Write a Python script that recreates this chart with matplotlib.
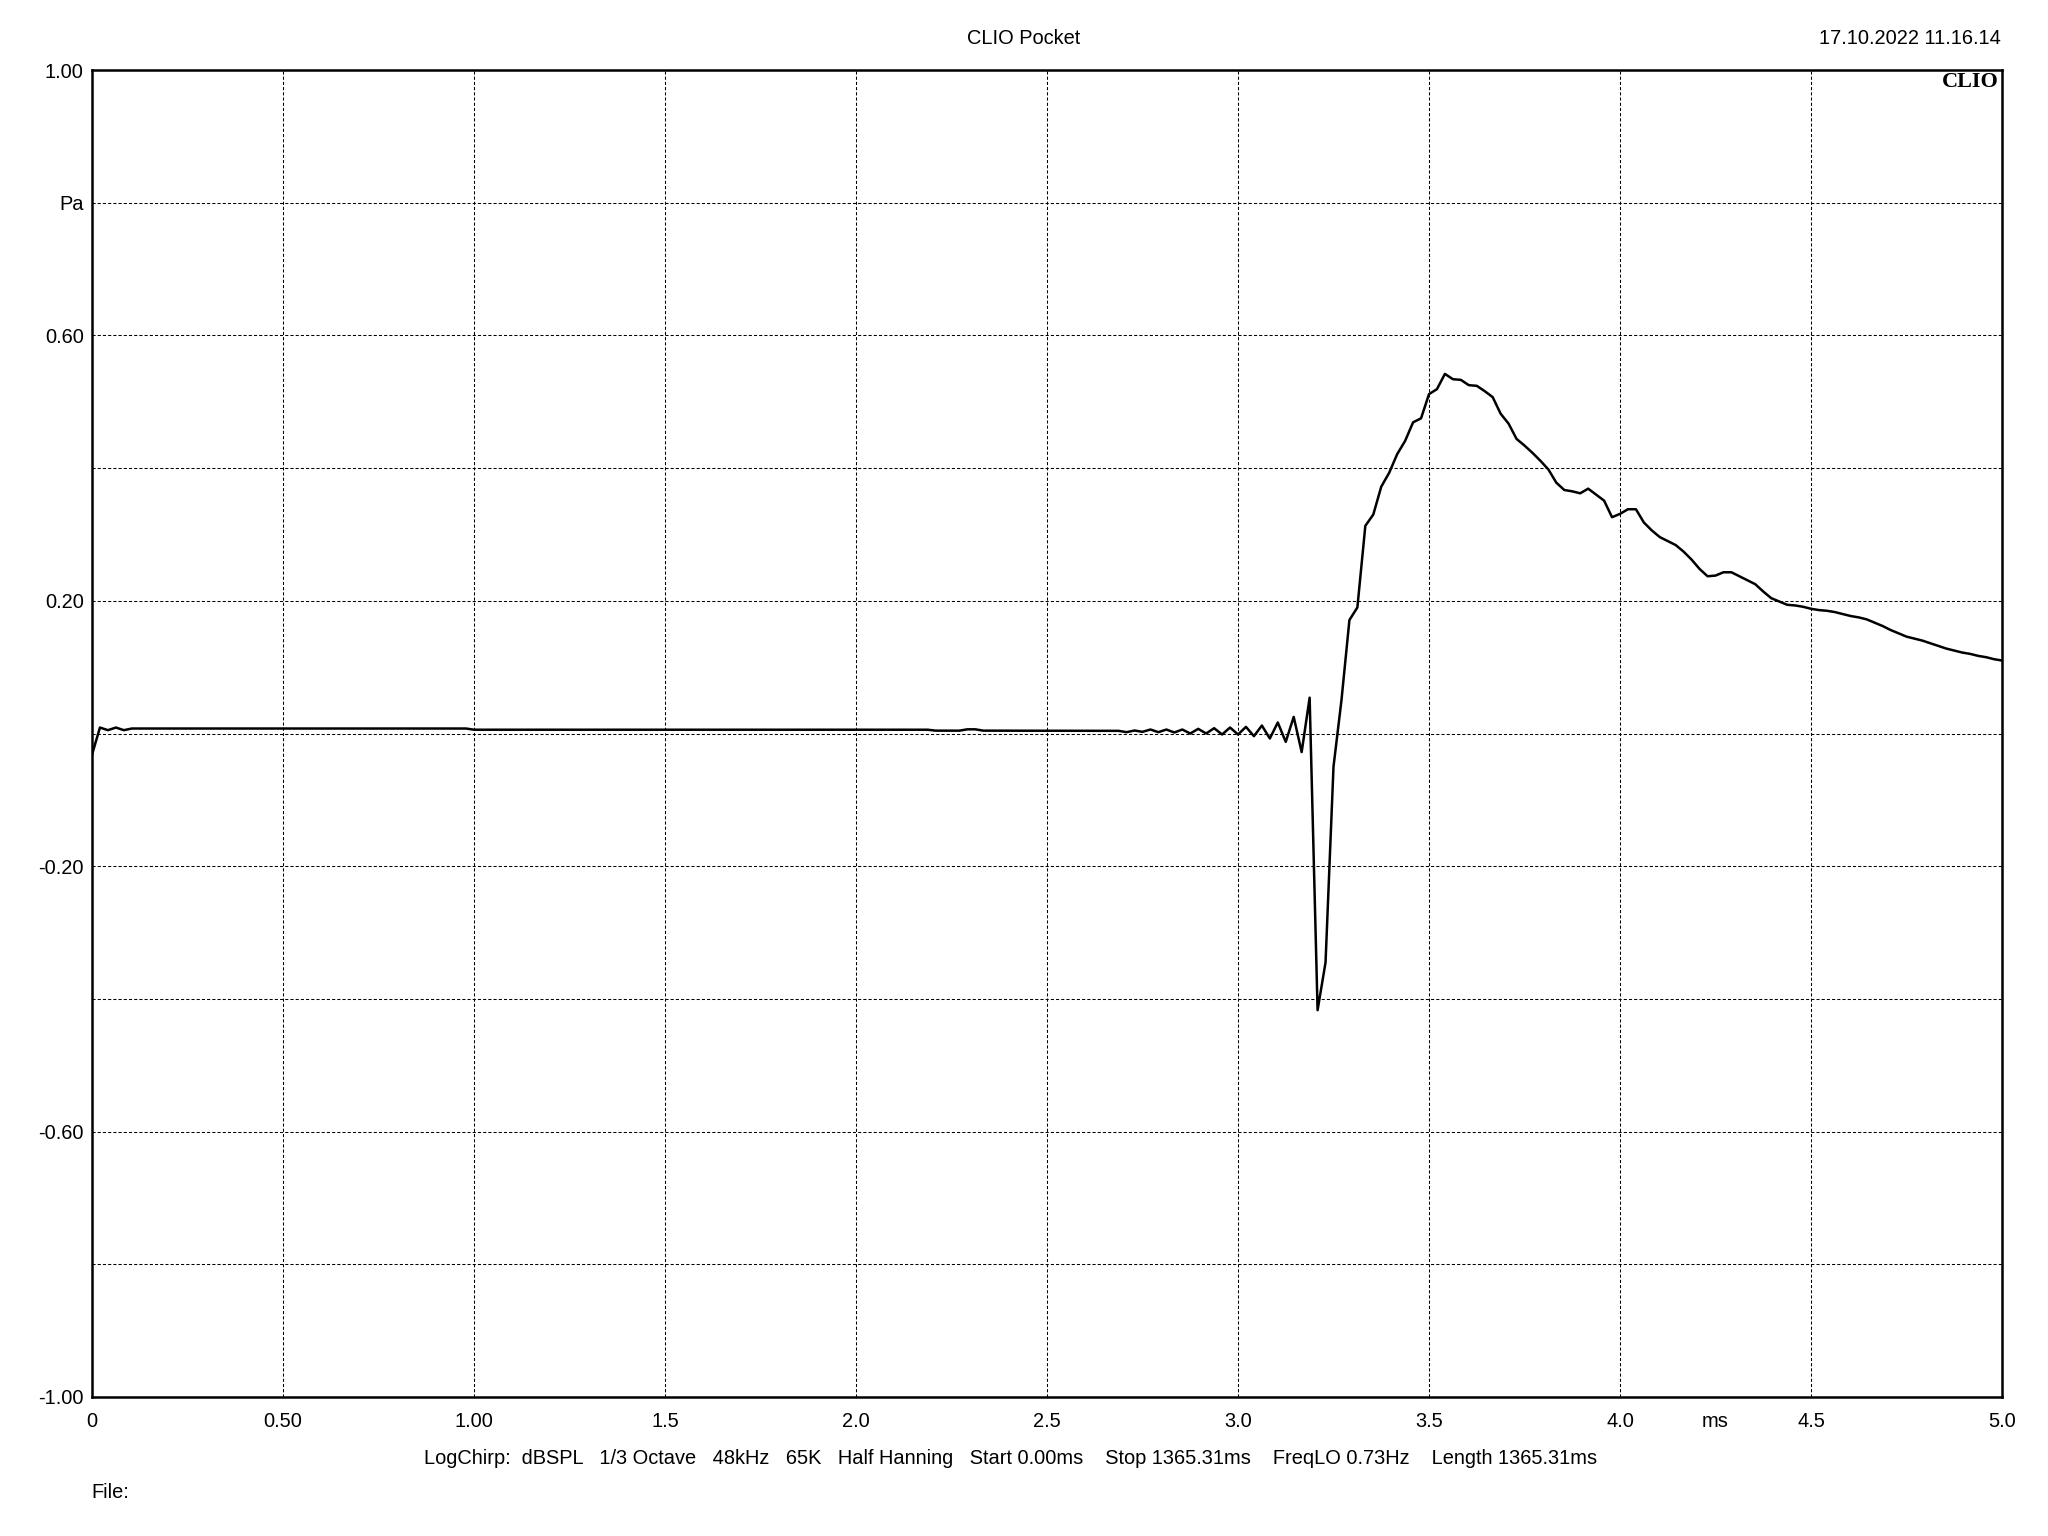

# ~~~~~~~~~~~~~~~~~~~~   import packages  ~~~~~~~~~~~~~~~~~~~
import numpy as np
import matplotlib
matplotlib.use('Agg')
from matplotlib import pyplot as plt

# ~~~~~~~~~~~~~~ data ~~~~~~~~~~~~~~~~~~~~~~~~~~~~~~~~~~~~~~~~~~~~~~~~~~~
# start + flat part (ms, Pa)
t_head = [0.0, 0.0208, 0.0417, 0.0625, 0.0833, 0.1042, 0.9792, 1.0,
          2.1875, 2.2083, 2.2708, 2.2917, 2.3125, 2.3333, 2.6875]
p_head = [-0.032, 0.009, 0.005, 0.009, 0.005, 0.0075, 0.0075, 0.0057,
          0.0057, 0.0043, 0.0043, 0.0063, 0.0063, 0.0043, 0.0040]

# 48 kHz samples from sample 130 (2.708 ms) to 240 (5.0 ms)
fs_khz = 48.0
k_first = 130
p_tail = [0.002, 0.0045, 0.0025, 0.006, 0.002, 0.006, 0.0015, 0.006, 0.0, 0.007,
          0.0, 0.008, -0.0015, 0.009, -0.0015, 0.010, -0.004, 0.012, -0.0075, 0.0166,
          -0.0126, 0.025, -0.028, 0.054, -0.417, -0.345, -0.05, 0.05, 0.171, 0.190,
          0.313, 0.330, 0.372, 0.393, 0.421, 0.441, 0.469, 0.475, 0.5115, 0.519,
          0.542, 0.534, 0.533, 0.525, 0.524, 0.516, 0.507, 0.482, 0.467, 0.444,
          0.434, 0.423, 0.411, 0.398, 0.378, 0.367, 0.365, 0.362, 0.369, 0.360,
          0.351, 0.326, 0.331, 0.338, 0.338, 0.318, 0.306, 0.296, 0.290, 0.284,
          0.274, 0.262, 0.248, 0.237, 0.238, 0.243, 0.243, 0.237, 0.231, 0.225,
          0.214, 0.204, 0.199, 0.194, 0.193, 0.191, 0.188, 0.186, 0.185, 0.183,
          0.180, 0.177, 0.175, 0.172, 0.167, 0.162, 0.156, 0.151, 0.146, 0.143,
          0.140, 0.136, 0.132, 0.128, 0.125, 0.122, 0.120, 0.117, 0.115, 0.112,
          0.110]

x_ticks = [0, 0.5, 1.0, 1.5, 2.0, 2.5, 3.0, 3.5, 4.0, 4.5, 5.0]
x_labels = ['0', '0.50', '1.00', '1.5', '2.0', '2.5', '3.0', '3.5', '4.0', '4.5', '5.0']
y_ticks = [-1.0, -0.8, -0.6, -0.4, -0.2, 0.0, 0.2, 0.4, 0.6, 0.8, 1.0]
y_labels = ['-1.00', '', '-0.60', '', '-0.20', '', '0.20', '', '0.60', 'Pa', '1.00']

title = 'CLIO Pocket'
stamp = '17.10.2022 11.16.14'
info = ('LogChirp:  dBSPL   1/3 Octave   48kHz   65K   Half Hanning   '
        'Start 0.00ms    Stop 1365.31ms    FreqLO 0.73Hz    Length 1365.31ms')

#~~~~~~~~~~~~~~~~~~~~~~~~~~~~~~~~~~~~~~~~~~~~~~~~~~~~~~~~~~~~~~~~~~~~~~~~~~~~~
t_tail = (k_first + np.arange(len(p_tail))) / fs_khz
t = np.concatenate([t_head, t_tail])
p = np.concatenate([p_head, p_tail])

plt.rcParams['font.family'] = ['Liberation Sans', 'DejaVu Sans']
fs = 14.4

fig = plt.figure(figsize=(20.48, 15.36), dpi=100)
ax = fig.add_axes([92/2048, 1 - 1397/1536, 1910/2048, 1327/1536])

ax.plot(t, p, color='black', lw=1.8)

ax.set_xlim(0, 5)
ax.set_ylim(-1, 1)
ax.set_xticks(x_ticks)
ax.set_xticklabels(x_labels)
ax.set_yticks(y_ticks)
ax.set_yticklabels(y_labels)
ax.tick_params(axis='both', length=0, labelsize=fs, colors='black')
ax.tick_params(axis='x', pad=11)
ax.tick_params(axis='y', pad=6)
ax.grid(True, color='black', lw=0.75, linestyle=(0, (3, 2)))
for s in ax.spines.values():
    s.set_linewidth(1.8)
    s.set_color('black')

# unit label sits in the tick row
ax.annotate('ms', xy=(4.25, 0), xycoords=('data', 'axes fraction'),
            xytext=(0, -11), textcoords='offset points', ha='center', va='top',
            fontsize=fs)

# CLIO logo top right inside
ax.text(0.9985, 0.9985, 'CLIO', transform=ax.transAxes, ha='right', va='top',
        fontsize=16, fontweight='bold', family='Liberation Serif')

fig.text(1024/2048, 1 - 38/1536, title, ha='center', va='center', fontsize=fs)
fig.text(2001/2048, 1 - 38/1536, stamp, ha='right', va='center', fontsize=fs)
fig.text(1011/2048, 1 - 1458/1536, info, ha='center', va='center', fontsize=fs)
fig.text(91/2048, 1 - 1492/1536, 'File:', ha='left', va='center', fontsize=fs)

fig.savefig('out.png', dpi=100, facecolor='white')
